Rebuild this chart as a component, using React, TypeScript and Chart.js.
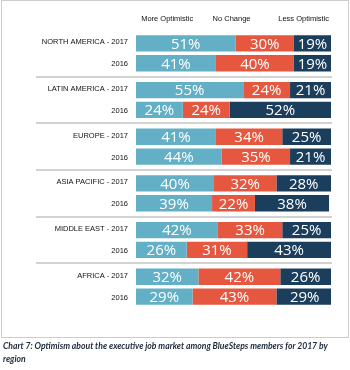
import React, { useEffect, useRef } from "react";
import { Chart, registerables } from "chart.js";

Chart.register(...registerables);

const regions = ["NORTH AMERICA", "LATIN AMERICA", "EUROPE", "ASIA PACIFIC", "MIDDLE EAST", "AFRICA"];
const yearLabels = ["2017", "2016"];
const seriesNames = ["More Optimistic", "No Change", "Less Optimistic"];
const more2017 = [51, 55, 41, 40, 42, 32];
const noChange2017 = [30, 24, 34, 32, 33, 42];
const less2017 = [19, 21, 25, 28, 25, 26];
const more2016 = [41, 24, 44, 39, 26, 29];
const noChange2016 = [40, 24, 35, 22, 31, 43];
const less2016 = [19, 52, 21, 38, 43, 29];
const caption1 = "Chart 7: Optimism about the executive job market among BlueSteps members for 2017 by";
const caption2 = "region";

const COLORS = ["#63afc6", "#e5583f", "#1c3e5d"];

const valueLabelPlugin = {
  id: "valueLabels",
  afterDatasetsDraw(chart: any) {
    const ctx = chart.ctx;
    ctx.save();
    ctx.font = '15px "Open Sans"';
    ctx.fillStyle = "#ffffff";
    ctx.textAlign = "center";
    ctx.textBaseline = "middle";
    chart.data.datasets.forEach((ds: any, di: number) => {
      const meta = chart.getDatasetMeta(di);
      meta.data.forEach((bar: any, i: number) => {
        const v = ds.data[i];
        const cx = (bar.x + bar.base) / 2;
        ctx.fillText(v + "%", cx, bar.y + 1);
      });
    });
    ctx.restore();
  },
};

const decorPlugin = {
  id: "decor",
  afterDraw(chart: any) {
    const ctx = chart.ctx;
    const y = chart.scales.y;
    const x = chart.scales.x;
    ctx.save();
    ctx.strokeStyle = "#d2d2d2";
    ctx.lineWidth = 2;
    for (let i = 1; i < regions.length; i++) {
      const py = Math.round((y.getPixelForValue(i - 1) + y.getPixelForValue(i)) / 2);
      ctx.beginPath();
      ctx.moveTo(36, py);
      ctx.lineTo(x.right + 1, py);
      ctx.stroke();
    }
    ctx.font = '7.5px "Liberation Sans"';
    ctx.fillStyle = "#111111";
    ctx.textBaseline = "middle";
    ctx.textAlign = "center";
    const at = [16, 49, 86];
    seriesNames.forEach((n, i) => {
      ctx.fillText(n, x.getPixelForValue(at[i]), 19);
    });
    ctx.restore();
  },
};

export default function App() {
  const ref = useRef<HTMLCanvasElement>(null);
  useEffect(() => {
    const labels = regions.map((r) => [r + " - " + yearLabels[0], yearLabels[1]]);
    const mk = (label: string, data: number[], ci: number, stack: string) => ({
      label,
      data,
      backgroundColor: COLORS[ci],
      borderWidth: 0,
      stack,
      categoryPercentage: 0.852,
      barPercentage: 0.82,
    });
    const chart = new Chart(ref.current!, {
      type: "bar",
      data: {
        labels,
        datasets: [
          mk(seriesNames[0] + " 2017", more2017, 0, "a"),
          mk(seriesNames[1] + " 2017", noChange2017, 1, "a"),
          mk(seriesNames[2] + " 2017", less2017, 2, "a"),
          mk(seriesNames[0] + " 2016", more2016, 0, "b"),
          mk(seriesNames[1] + " 2016", noChange2016, 1, "b"),
          mk(seriesNames[2] + " 2016", less2016, 2, "b"),
        ],
      },
      options: {
        indexAxis: "y",
        animation: false,
        responsive: false,
        devicePixelRatio: 1,
        layout: { padding: { left: 0, right: 19, top: 24, bottom: 6 } },
        plugins: { legend: { display: false }, tooltip: { enabled: false } },
        scales: {
          x: { display: false, stacked: true, min: 0, max: 100 },
          y: {
            stacked: true,
            grid: { display: false, drawTicks: false },
            border: { display: false },
            afterFit(scale: any) {
              scale.width = 136;
            },
            ticks: {
              padding: 8,
              color: "#111111",
              font: { family: "Liberation Sans", size: 7.5, lineHeight: "22px" },
            },
          },
        },
      },
      plugins: [valueLabelPlugin, decorPlugin],
    } as any);
    return () => chart.destroy();
  }, []);
  return (
    <div style={{ position: "absolute", left: 0, top: 0, width: 350, height: 370, background: "#fff" }}>
      <canvas ref={ref} width={350} height={340} style={{ position: "absolute", left: 0, top: 0 }} />
      <div
        style={{
          position: "absolute",
          left: 1,
          top: 0,
          width: 346,
          height: 336,
          border: "1px solid #cdcdcd",
          boxSizing: "content-box",
          pointerEvents: "none",
        }}
      />
      <div
        style={{
          position: "absolute",
          left: 3,
          top: 340,
          fontFamily: "Lato",
          fontWeight: "bold",
          fontStyle: "italic",
          fontSize: "8.6px",
          lineHeight: "13px",
          color: "#1b2a3a",
          whiteSpace: "nowrap",
        }}
      >
        <div>{caption1}</div>
        <div>{caption2}</div>
      </div>
    </div>
  );
}
